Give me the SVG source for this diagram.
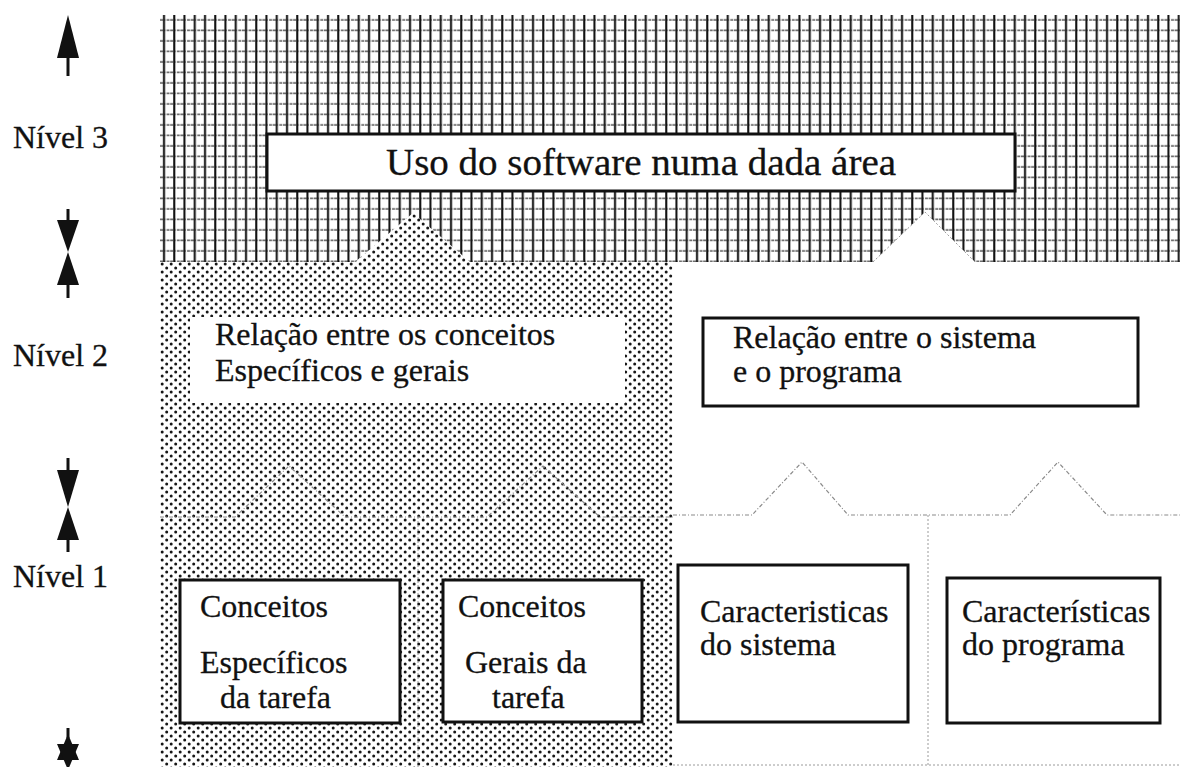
<svg xmlns="http://www.w3.org/2000/svg" width="1180" height="767" viewBox="0 0 1180 767">
  <defs>
    <!-- cross-hatch used for the upper (level 3) band -->
    <pattern id="grid" patternUnits="userSpaceOnUse" x="160" y="15" width="10.25" height="10.5">
      <rect width="10.25" height="10.5" fill="#fff"/>
      <line x1="0" y1="5" x2="10.25" y2="5" stroke="#2a2a2a" stroke-width="1.2" stroke-dasharray="3 1.3 1 1.3"/>
      <line x1="4" y1="0" x2="4" y2="10.5" stroke="#0a0a0a" stroke-width="2"/>
    </pattern>
    <!-- stipple used for the task-concepts column -->
    <pattern id="dots" patternUnits="userSpaceOnUse" x="160" y="262" width="9" height="8">
      <rect width="9" height="8" fill="#fff"/>
      <circle cx="2.2" cy="2" r="1.5" fill="#161616"/>
      <circle cx="6.7" cy="6" r="1.5" fill="#161616"/>
    </pattern>
  </defs>
  <style>
    text { font-family: "Liberation Serif", "Times New Roman", serif; font-size: 32px; fill: #111; stroke: #111; stroke-width: 0.3; }
    text.title { font-size: 37px; }
    .box { fill: #fff; stroke: #111; stroke-width: 3; }
    .head { fill: #111; }
    .shaft { stroke: #111; stroke-width: 3; fill: none; }
    .divider { fill: none; stroke: #8a8a8a; stroke-width: 1.2; stroke-dasharray: 4 2 1 2; }
    .faint { fill: none; stroke: #9a9a9a; stroke-width: 1; stroke-dasharray: 2 2; }
  </style>

  <rect width="1180" height="767" fill="#fff"/>

  <!-- background bands -->
  <g id="bands">
    <rect x="160" y="15" width="1020" height="247" fill="url(#grid)"/>
    <polygon points="160,262 355,262 413,213 462,255 470,262 673,262 673,767 160,767" fill="url(#dots)"/>
    <polygon points="873,262 925,212 975,262" fill="#fff"/>
    <polyline class="faint" points="873,262 925,212 975,262"/>
    <line class="faint" x1="673" y1="765" x2="1180" y2="765"/>
  </g>

  <!-- level 3 -->
  <g id="uso-software">
    <rect class="box" x="267" y="134" width="748" height="57" stroke-width="3.5"/>
    <text class="title" x="386" y="175" textLength="510" lengthAdjust="spacingAndGlyphs">Uso do software numa dada área</text>
  </g>

  <!-- level 2 -->
  <g id="relacao-conceitos">
    <rect x="190" y="317" width="435" height="86" fill="#fff"/>
    <text x="215" y="345">Relação entre os conceitos</text>
    <text x="215" y="381">Específicos e gerais</text>
  </g>
  <g id="relacao-sistema">
    <rect class="box" x="703" y="318" width="435" height="88"/>
    <text x="733" y="348">Relação entre o sistema</text>
    <text x="733" y="382">e o programa</text>
  </g>

  <!-- level 1 -->
  <g id="conceitos-especificos">
    <rect class="box" x="180" y="580" width="220" height="143"/>
    <text x="200" y="617">Conceitos</text>
    <text x="200" y="673">Específicos</text>
    <text x="220" y="708">da tarefa</text>
  </g>
  <g id="conceitos-gerais">
    <rect class="box" x="443" y="580" width="199" height="142"/>
    <text x="458" y="617">Conceitos</text>
    <text x="465" y="673">Gerais da</text>
    <text x="492" y="708">tarefa</text>
  </g>
  <g id="caracteristicas-sistema">
    <rect class="box" x="678" y="565" width="230" height="157"/>
    <text x="700" y="622">Caracteristicas</text>
    <text x="700" y="655">do sistema</text>
  </g>
  <g id="caracteristicas-programa">
    <rect class="box" x="947" y="578" width="213" height="145"/>
    <text x="962" y="622">Características</text>
    <text x="962" y="655">do programa</text>
  </g>

  <!-- level labels -->
  <g id="level-labels">
    <text x="13" y="148">Nível 3</text>
    <text x="13" y="366">Nível 2</text>
    <text x="13" y="587">Nível 1</text>
  </g>

  <g id="connectors">
    <!-- peaked dividers between levels 2 and 1 -->
    <polyline class="divider" points="160,517 235,517 289,466 345,517 487,517 543,466 600,517 673,517"/>
    <polyline class="divider" points="673,515 752,515 802,462 848,515 1010,515 1058,462 1107,515 1180,515"/>
    <line class="faint" x1="418" y1="517" x2="418" y2="767"/>
    <line class="faint" x1="928" y1="515" x2="928" y2="767"/>

    <!-- level extent arrows -->
    <line class="shaft" x1="68" y1="56" x2="68" y2="76"/>
    <polygon class="head" points="68,15 79,58 57,58"/>

    <line class="shaft" x1="68" y1="209" x2="68" y2="222"/>
    <polygon class="head" points="57,220 79,220 68,252"/>
    <polygon class="head" points="68,252 79,285 57,285"/>
    <line class="shaft" x1="68" y1="283" x2="68" y2="298"/>

    <line class="shaft" x1="68" y1="458" x2="68" y2="472"/>
    <polygon class="head" points="57,470 79,470 68,507"/>
    <polygon class="head" points="68,507 79,540 57,540"/>
    <line class="shaft" x1="68" y1="538" x2="68" y2="552"/>

    <line class="shaft" x1="68" y1="728" x2="68" y2="738"/>
    <polygon class="head" points="68,734 79,760 57,760"/>
    <polygon class="head" points="57,744 79,744 68,770"/>
  </g>
</svg>
